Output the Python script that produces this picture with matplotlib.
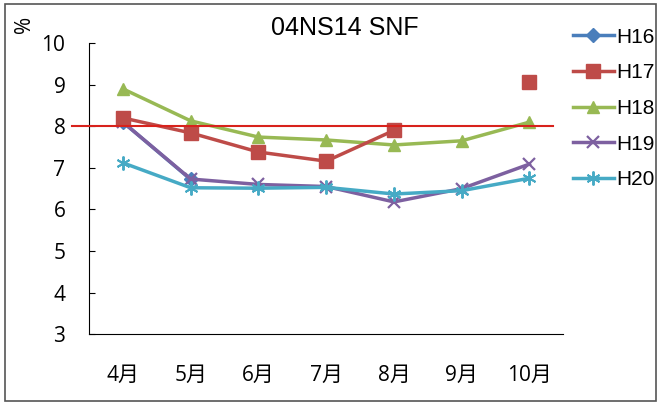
import numpy as np
import matplotlib.pyplot as plt
from matplotlib.patches import Rectangle

plt.rcParams['font.family'] = ['Open Sans', 'Noto Sans CJK JP', 'DejaVu Sans']

months = ["4月", "5月", "6月", "7月", "8月", "9月", "10月"]
h16 = [8.1, 6.72, np.nan, np.nan, np.nan, np.nan, np.nan]
h17 = [8.2, 7.84, 7.38, 7.16, 7.9, np.nan, 9.06]
h18 = [8.9, 8.13, 7.74, 7.67, 7.55, 7.65, 8.1]
h19 = [8.1, 6.73, 6.6, 6.55, 6.18, 6.5, 7.09]
h20 = [7.12, 6.52, 6.51, 6.53, 6.37, 6.45, 6.75]
target = 8

x = np.arange(len(months))

fig = plt.figure(figsize=(6.57, 4.03), dpi=100)
ax = fig.add_axes([0.1355, 0.171, 0.722, 0.722])

ax.plot(x, h16, color="#4a7ebb", lw=2.5, marker="D", ms=7, label="H16")
ax.plot(x, h19, color="#7d60a0", lw=2.5, marker="x", ms=9, mew=1.6, label="H19")
ax.plot(x, h20, color="#46aac5", lw=2.5, marker=(6, 2, 0), ms=10, mew=1.4, label="H20")
ax.plot(x, h18, color="#98b954", lw=2.5, marker="^", ms=9, label="H18")
ax.plot(x, h17, color="#be4b48", lw=2.5, marker="s", ms=10, label="H17")
ax.plot([-0.75, 6.35], [target, target], color="#d8221c", lw=1.5, clip_on=False, zorder=5)

ax.set_xlim(-0.5, 6.5)
ax.set_ylim(3, 10)
ax.set_xticks(x)
ax.set_xticklabels(months, fontsize=15)
ax.set_yticks(range(3, 11))
ax.tick_params(axis="x", length=0, pad=22)
ax.tick_params(axis="y", direction="in", length=4, labelsize=15, pad=17)
for s in ["top", "right"]:
    ax.spines[s].set_visible(False)

fig.text(0.525, 0.93, "04NS14 SNF", fontsize=18, family=["Liberation Sans"],
         ha="center", va="center")
fig.text(0.038, 0.94, "%", fontsize=15, rotation=90, ha="center", va="center")

handles, labels = ax.get_legend_handles_labels()
order = ["H16", "H17", "H18", "H19", "H20"]
hl = dict(zip(labels, handles))
fig.legend([hl[k] for k in order], order, loc="upper left",
           bbox_to_anchor=(0.843, 0.978),
           prop={"family": "Liberation Sans", "size": 15}, frameon=False,
           handlelength=2.0, handletextpad=0.1, labelspacing=0.8)

fig.patches.append(Rectangle((0.008, 0.005), 0.99, 0.985, transform=fig.transFigure,
                             fill=False, edgecolor="#555555", lw=1.2))

fig.savefig("out.png", dpi=100)
